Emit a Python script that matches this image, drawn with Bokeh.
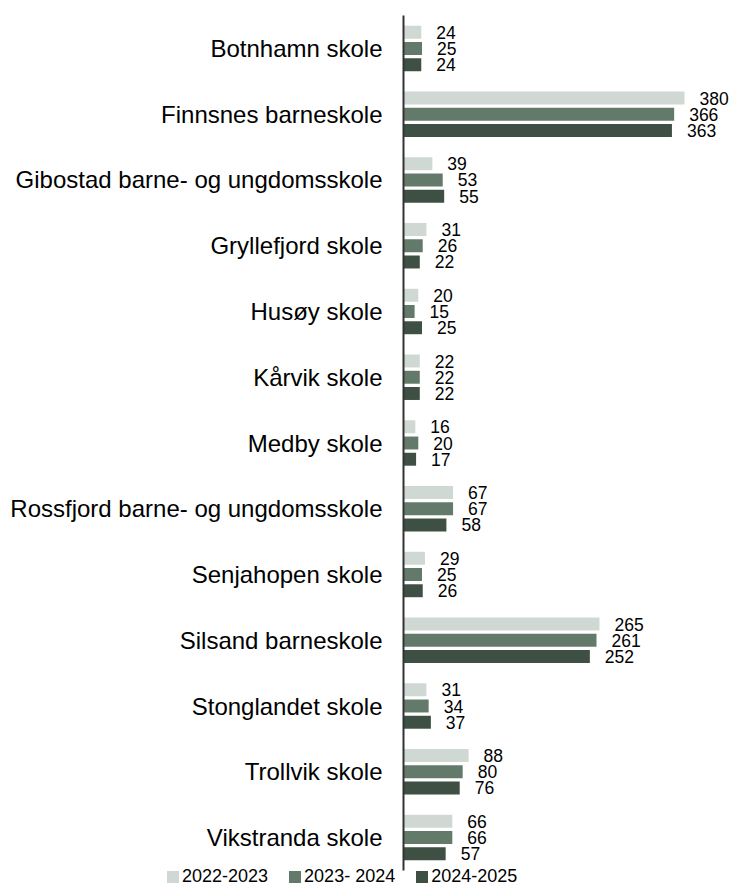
import numpy as np
from bokeh.plotting import figure
from bokeh.models import Range1d, Legend, LegendItem, ColumnDataSource
from bokeh.core.properties import value
from bokeh.embed import file_html
from bokeh.resources import INLINE

schools = ["Botnhamn skole", "Finnsnes barneskole", "Gibostad barne- og ungdomsskole",
           "Gryllefjord skole", "Husøy skole", "Kårvik skole", "Medby skole",
           "Rossfjord barne- og ungdomsskole", "Senjahopen skole", "Silsand barneskole",
           "Stonglandet skole", "Trollvik skole", "Vikstranda skole"]
series_names = ["2022-2023", "2023- 2024", "2024-2025"]
v2022 = [24, 380, 39, 31, 20, 22, 16, 67, 29, 265, 31, 88, 66]
v2023 = [25, 366, 53, 26, 15, 22, 20, 67, 25, 261, 34, 80, 66]
v2024 = [24, 363, 55, 22, 25, 22, 17, 58, 26, 252, 37, 76, 57]
colors = ["#cfd8d3", "#637a6b", "#3e4f44"]

FONT = "Liberation Sans"
n = len(schools)

# frame covers the whole canvas; value 0 sits at x = 403 px, 0.7395 px per pupil
p = figure(width=734, height=885, output_backend="svg", toolbar_location=None,
           x_range=Range1d(-545, 447.6), y_range=Range1d(n - 0.27, -0.73),
           min_border_left=0, min_border_right=0, min_border_top=0, min_border_bottom=0)
p.outline_line_color = None
p.xgrid.visible = False
p.ygrid.visible = False
p.xaxis.visible = False

offsets = [-0.247, 0.0, 0.247]
items = []
base = np.arange(n)
for vals, name, col, off in zip([v2022, v2023, v2024], series_names, colors, offsets):
    src = ColumnDataSource(dict(y=base + off, x=vals, lab=[str(v) for v in vals]))
    r = p.hbar(y="y", right="x", left=0, height=0.197, source=src,
               fill_color=col, line_color=None)
    p.text(x="x", y="y", text="lab", source=src, x_offset=15,
           text_font=value(FONT), text_font_size="17.5px", text_color="#000000",
           text_align="left", text_baseline="middle")
    items.append(LegendItem(label=name, renderers=[r]))

yax = p.yaxis[0]
yax.fixed_location = 0
yax.bounds = (-0.5, n - 0.5)
yax.ticker = list(range(n))
yax.major_label_overrides = {i: s for i, s in enumerate(schools)}
yax.major_label_text_font = FONT
yax.major_label_text_font_size = "24px"
yax.major_label_text_color = "#000000"
yax.major_label_standoff = 15
yax.major_tick_line_color = None
yax.minor_tick_line_color = None
yax.axis_line_color = "#333333"
yax.axis_line_width = 2

legend = Legend(items=items, orientation="horizontal", location=(165, -2),
                padding=0, margin=0, spacing=19, glyph_width=15, glyph_height=15,
                label_standoff=2, label_text_font=FONT, label_text_font_size="18px",
                label_text_color="#000000", border_line_color=None,
                background_fill_alpha=0)
p.add_layout(legend, "center")

open("out.html", "w").write(file_html(p, INLINE))
